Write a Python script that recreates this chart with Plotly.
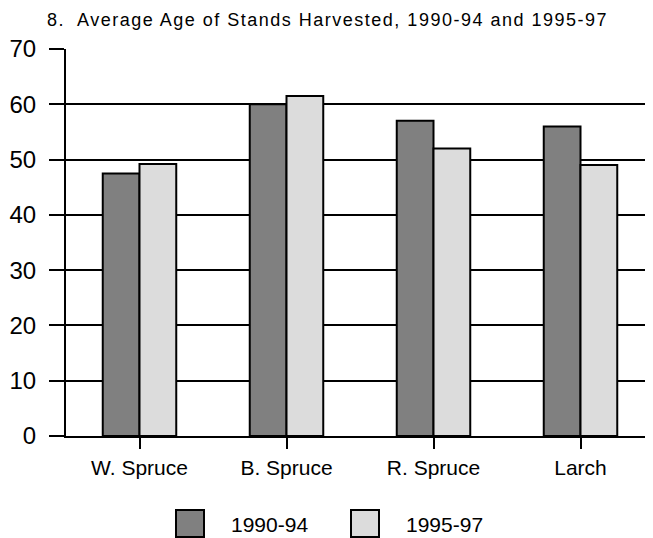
"""Average age of stands harvested, grouped bar chart."""

import plotly.graph_objects as go

species = ["W. Spruce", "B. Spruce", "R. Spruce", "Larch"]
age_1990_94 = [47.5, 60, 57, 56]
age_1995_97 = [49.2, 61.5, 52, 49]
series_names = ["1990-94", "1995-97"]
series_colors = ["#808080", "#dcdcdc"]

FONT = "Liberation Sans, Arial, sans-serif"

# the page body adds 8px around the figure; plot area sits at window x 66..654, y 49..436
L, T, PW, PH = 58, 41, 588, 387


def px(x):
    return (x - 8 - L) / PW


def py(y):
    return (T + PH - (y - 8)) / PH


fig = go.Figure()
for name, vals, color in zip(series_names, [age_1990_94, age_1995_97], series_colors):
    fig.add_trace(
        go.Bar(
            x=species,
            y=vals,
            name=name,
            marker=dict(color=color, line=dict(color="#000000", width=2)),
            showlegend=False,
        )
    )

# legend drawn by hand: the built-in swatches are too small
swatch_left = [176, 351]
for name, color, x0 in zip(series_names, series_colors, swatch_left):
    fig.add_shape(
        type="rect",
        xref="paper",
        yref="paper",
        x0=px(x0),
        x1=px(x0 + 28),
        y0=py(537),
        y1=py(510),
        fillcolor=color,
        line=dict(color="#000000", width=2),
    )
    fig.add_annotation(
        text=name,
        xref="paper",
        yref="paper",
        x=px(x0 + 53),
        y=py(524),
        xanchor="left",
        yanchor="middle",
        showarrow=False,
        font=dict(size=21, family=FONT, color="#000000"),
    )

fig.update_layout(
    width=653,
    height=538,
    margin=dict(l=L, r=653 - L - PW, t=T, b=538 - T - PH),
    paper_bgcolor="white",
    plot_bgcolor="white",
    font=dict(family=FONT, color="#000000"),
    title=dict(
        text='<span style="letter-spacing:1.5px">8.  Average Age of Stands Harvested, 1990-94 and 1995-97</span>',
        x=39 / 653,
        xanchor="left",
        xref="container",
        y=1 - 12 / 538,
        yanchor="middle",
        font=dict(size=18, family=FONT, color="#000000"),
    ),
    barmode="group",
    bargap=0.5,
    bargroupgap=0,
    showlegend=False,
)

fig.update_xaxes(
    range=[-0.5, 3.5],
    automargin=False,
    showline=True,
    linecolor="#000000",
    linewidth=2,
    ticks="outside",
    ticklen=11,
    tickwidth=2,
    tickcolor="#000000",
    ticklabelstandoff=1,
    tickfont=dict(size=21, family=FONT),
    showgrid=False,
)
fig.update_yaxes(
    range=[0, 70],
    dtick=10,
    automargin=False,
    showline=True,
    linecolor="#000000",
    linewidth=2,
    ticks="outside",
    ticklen=15,
    tickwidth=2,
    tickcolor="#000000",
    ticklabelstandoff=8,
    tickfont=dict(size=24, family=FONT),
    showgrid=True,
    gridcolor="#000000",
    gridwidth=2,
    zeroline=False,
)

fig.write_html("out.html")
